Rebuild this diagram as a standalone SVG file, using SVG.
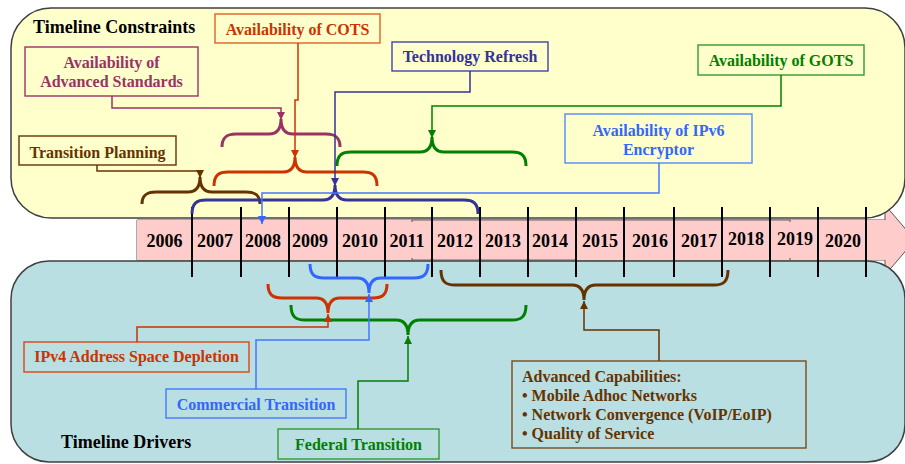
<svg xmlns="http://www.w3.org/2000/svg" width="905" height="464" viewBox="0 0 905 464">
<style>
text{font-family:"Liberation Serif","Times New Roman",serif;font-weight:bold}
.t16{font-size:16px}
.yr{font-size:18px;fill:#000;text-anchor:middle}
.box{fill:none;stroke-width:1.4}
.br{fill:none;stroke-width:3}
.cn{fill:none;stroke-width:1.5}
.tick{stroke:#000;stroke-width:2}
.c{text-anchor:middle}
</style>
<defs>
<marker id="aBrown" markerUnits="userSpaceOnUse" markerWidth="9" markerHeight="9" refX="8" refY="4" orient="auto"><path d="M0,0 L8,4 L0,8 z" fill="#663300"/></marker>
<marker id="aPurple" markerUnits="userSpaceOnUse" markerWidth="9" markerHeight="9" refX="8" refY="4" orient="auto"><path d="M0,0 L8,4 L0,8 z" fill="#993366"/></marker>
<marker id="aOrange" markerUnits="userSpaceOnUse" markerWidth="9" markerHeight="9" refX="8" refY="4" orient="auto"><path d="M0,0 L8,4 L0,8 z" fill="#CC3300"/></marker>
<marker id="aNavy" markerUnits="userSpaceOnUse" markerWidth="9" markerHeight="9" refX="8" refY="4" orient="auto"><path d="M0,0 L8,4 L0,8 z" fill="#333399"/></marker>
<marker id="aGreen" markerUnits="userSpaceOnUse" markerWidth="9" markerHeight="9" refX="8" refY="4" orient="auto"><path d="M0,0 L8,4 L0,8 z" fill="#008000"/></marker>
<marker id="aBlue" markerUnits="userSpaceOnUse" markerWidth="9" markerHeight="9" refX="8" refY="4" orient="auto"><path d="M0,0 L8,4 L0,8 z" fill="#3366FF"/></marker>
</defs>
<rect width="905" height="464" fill="#fff"/>

<g id="timeline-band">
<polygon points="137,220 885,220 885,205 915,240 885,275 885,260 137,260" fill="#FFCCCC" stroke="#555" stroke-width="1"/>
</g>

<g id="panel-constraints">
<rect x="11" y="8" width="894" height="210" rx="40" fill="#FFFFCC" stroke="#404040" stroke-width="1.5"/>
<text x="33" y="33" style="font-size:18px" fill="#000">Timeline Constraints</text>
</g>

<g id="panel-drivers">
<rect x="11" y="261" width="894" height="201" rx="38" fill="#B9DFE2" stroke="#404040" stroke-width="1.5"/>
<text x="61" y="448" style="font-size:18px" fill="#000">Timeline Drivers</text>
</g>

<g id="timeline">
<rect x="137" y="220" width="748" height="40" fill="#FFCCCC"/>
<path d="M412,222 V220 H790 V222 M412,258 V260 H577 M790,258 V260" fill="none" stroke="#666" stroke-width="1.2"/>
<g>
<line class="tick" x1="192" y1="207" x2="192" y2="277"/>
<line class="tick" x1="241" y1="207" x2="241" y2="277"/>
<line class="tick" x1="289" y1="207" x2="289" y2="277"/>
<line class="tick" x1="337" y1="207" x2="337" y2="277"/>
<line class="tick" x1="385" y1="207" x2="385" y2="277"/>
<line class="tick" x1="432" y1="207" x2="432" y2="277"/>
<line class="tick" x1="480" y1="207" x2="480" y2="277"/>
<line class="tick" x1="528" y1="207" x2="528" y2="277"/>
<line class="tick" x1="576" y1="207" x2="576" y2="277"/>
<line class="tick" x1="624" y1="207" x2="624" y2="277"/>
<line class="tick" x1="674" y1="207" x2="674" y2="277"/>
<line class="tick" x1="722" y1="207" x2="722" y2="277"/>
<line class="tick" x1="770" y1="207" x2="770" y2="277"/>
<line class="tick" x1="818" y1="207" x2="818" y2="277"/>
<line class="tick" x1="866" y1="207" x2="866" y2="277"/>
</g>
<text class="yr" x="164.5" y="247">2006</text>
<text class="yr" x="215" y="247">2007</text>
<text class="yr" x="263" y="247">2008</text>
<text class="yr" x="310" y="247">2009</text>
<text class="yr" x="360" y="247">2010</text>
<text class="yr" x="407" y="247">2011</text>
<text class="yr" x="455" y="247">2012</text>
<text class="yr" x="503" y="247">2013</text>
<text class="yr" x="550" y="247">2014</text>
<text class="yr" x="600" y="247">2015</text>
<text class="yr" x="650" y="247">2016</text>
<text class="yr" x="699" y="247">2017</text>
<text class="yr" x="746" y="245">2018</text>
<text class="yr" x="795" y="245">2019</text>
<text class="yr" x="843" y="247">2020</text>
</g>

<g id="node-cots">
<rect class="box" x="215" y="14" width="165" height="29" stroke="#E0602A"/>
<text class="t16 c" x="297.5" y="35" fill="#CC3300">Availability of COTS</text>
</g>
<g id="node-standards">
<rect class="box" x="25" y="47" width="173" height="49" stroke="#993366"/>
<text class="t16 c" x="111.5" y="68" fill="#993366">Availability of</text>
<text class="t16 c" x="111.5" y="87" fill="#993366">Advanced Standards</text>
</g>
<g id="node-tech-refresh">
<rect class="box" x="392" y="42" width="156" height="29" stroke="#4444AA"/>
<text class="t16 c" x="470" y="62" fill="#333399">Technology Refresh</text>
</g>
<g id="node-gots">
<rect class="box" x="698" y="45" width="166" height="30" stroke="#339933"/>
<text class="t16 c" x="781" y="66" fill="#008000">Availability of GOTS</text>
</g>
<g id="node-ipv6">
<rect class="box" x="565" y="114" width="187" height="49" stroke="#5588FF"/>
<text class="t16 c" x="658.5" y="136" fill="#3366FF">Availability of IPv6</text>
<text class="t16 c" x="658.5" y="155" fill="#3366FF">Encryptor</text>
</g>
<g id="node-transition-planning">
<rect class="box" x="19" y="136" width="157" height="29" stroke="#663300"/>
<text class="t16 c" x="97.5" y="158" fill="#663300">Transition Planning</text>
</g>
<g id="node-ipv4">
<rect class="box" x="24" y="342" width="225" height="30" stroke="#DD4411"/>
<text class="t16 c" x="136.5" y="362" fill="#CC3300">IPv4 Address Space Depletion</text>
</g>
<g id="node-commercial">
<rect class="box" x="166" y="389" width="180" height="29" stroke="#4477FF"/>
<text class="t16 c" x="256" y="410" fill="#3366FF">Commercial Transition</text>
</g>
<g id="node-federal">
<rect class="box" x="278" y="429" width="161" height="30" stroke="#339933"/>
<text class="t16 c" x="358.5" y="450" fill="#008000">Federal Transition</text>
</g>
<g id="node-advanced-capabilities">
<rect class="box" x="512" y="361" width="294" height="87" stroke="#7A4A1A"/>
<text class="t16" x="522" y="382" fill="#663300">Advanced Capabilities:</text>
<text class="t16" x="522" y="401" fill="#663300">• Mobile Adhoc Networks</text>
<text class="t16" x="522" y="420" fill="#663300">• Network Convergence (VoIP/EoIP)</text>
<text class="t16" x="522" y="439" fill="#663300">• Quality of Service</text>
</g>

<g id="connectors">
<path class="br" stroke="#993366" d="M222,147 C222,137 227,134 236,134 L269,134 C277,134 281,129 281,119 C281,129 285,134 293,134 L326,134 C335,134 340,137 340,147"/>
<path class="br" stroke="#008000" d="M337,166 C337,155 342,152 351,152 L420,152 C428,152 432,147 432,137 C432,147 436,152 444,152 L512,152 C521,152 526,155 526,166"/>
<path class="br" stroke="#CC3300" d="M214,186 C214,175 219,172 228,172 L283,172 C291,172 295,167 295,157 C295,167 299,172 307,172 L363,172 C372,172 377,175 377,186"/>
<path class="br" stroke="#663300" d="M142,204 C142,195 147,192 156,192 L188,192 C196,192 200,187 200,177 C200,187 204,192 212,192 L246,192 C255,192 260,195 260,204"/>
<path class="br" stroke="#333399" d="M192,214 C192,203 197,200 206,200 L323,200 C331,200 335,195 335,185 C335,195 339,200 347,200 L464,200 C473,200 478,203 478,214"/>
<path class="br" stroke="#3366FF" d="M310,264 C310,275 315,278 324,278 L357,278 C365,278 369,283 369,293 C369,283 373,278 381,278 L414,278 C423,278 428,275 428,264"/>
<path class="br" stroke="#CC3300" d="M268,284 C268,295 273,298 282,298 L316,298 C324,298 328,303 328,313 C328,303 332,298 340,298 L373,298 C382,298 387,295 387,284"/>
<path class="br" stroke="#008000" d="M291,305 C291,317 296,320 305,320 L396,320 C404,320 408,325 408,335 C408,325 412,320 420,320 L512,320 C521,320 526,317 526,305"/>
<path class="br" stroke="#663300" d="M441,270 C441,282 446,285 455,285 L572,285 C580,285 584,290 584,300 C584,290 588,285 596,285 L714,285 C723,285 728,282 728,270"/>

<path class="cn" stroke="#663300" marker-end="url(#aBrown)" d="M97,165 V171 H200 V178"/>
<path class="cn" stroke="#993366" marker-end="url(#aPurple)" d="M112,96 V108 H281 V120"/>
<path class="cn" stroke="#CC3300" marker-end="url(#aOrange)" d="M298,43 V100 H295 V158"/>
<path class="cn" stroke="#333399" marker-end="url(#aNavy)" d="M470,71 V92 H335 V186"/>
<path class="cn" stroke="#008000" marker-end="url(#aGreen)" d="M781,75 V106 H432 V138"/>
<path class="cn" stroke="#4477FF" marker-end="url(#aBlue)" d="M659,163 V193 H262 V224"/>
<path class="cn" stroke="#4477FF" marker-end="url(#aBlue)" d="M256,389 V340 H369 V294"/>
<path class="cn" stroke="#CC3300" marker-end="url(#aOrange)" d="M137,342 V327 H328 V314"/>
<path class="cn" stroke="#008000" marker-end="url(#aGreen)" d="M358,429 V381 H408 V336"/>
<path class="cn" stroke="#663300" marker-end="url(#aBrown)" d="M659,361 V330 H584 V301"/>
</g>
</svg>
